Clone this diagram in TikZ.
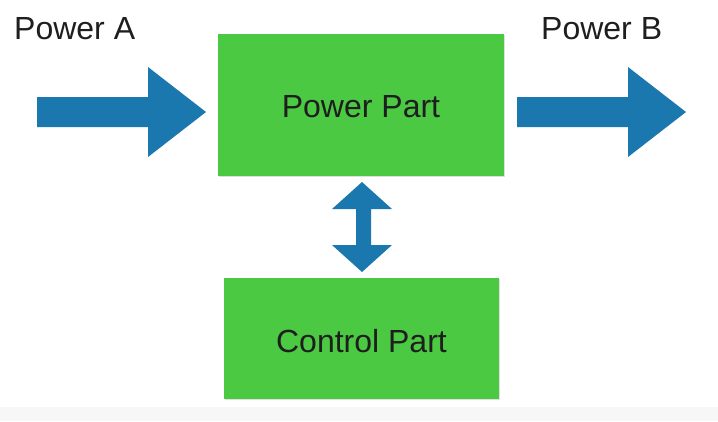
\documentclass[tikz,border=0pt]{standalone}
\usepackage{fontspec}
\setmainfont{Liberation Sans}
\usetikzlibrary{shadows}
\definecolor{boxgreen}{HTML}{4CC942}
\definecolor{flowblue}{HTML}{1B78AF}
\definecolor{labelgray}{HTML}{1E1E1E}
\definecolor{footgray}{HTML}{F7F7F7}
\tikzset{
  partbox/.style={fill=boxgreen, draw=none,
    drop shadow={opacity=0.25, shadow xshift=0.6pt, shadow yshift=-1.2pt}},
  blockarrow/.style={fill=flowblue, draw=none},
  caption/.style={font=\fontsize{32}{36}\selectfont, text=labelgray, inner sep=0pt, anchor=base},
}
\begin{document}
\begin{tikzpicture}[x=1pt,y=-1pt]
  \useasboundingbox (0,0) rectangle (718,421);
  % light footer strip
  \fill[footgray] (0,407) rectangle (718,421);

  % the two blocks
  \path[partbox] (218,34) rectangle (504,176);
  \node[inner sep=0pt, minimum width=286pt, minimum height=142pt] (power) at (361,105) {};
  \path[partbox] (224,278) rectangle (499,399);
  \node[inner sep=0pt, minimum width=275pt, minimum height=121pt] (control) at (361.5,338.5) {};

  \node[caption] (powertxt) at (361,117) {Power Part};
  \node[caption] (controltxt) at (361.5,352) {Control Part};

  % input and output flows
  \path[blockarrow] (37,97) -- (148,97) -- (148,67) -- (206,112) -- (148,157)
        -- (148,127) -- (37,127) -- cycle;
  \path[blockarrow] (517,97) -- (628,97) -- (628,67) -- (686,112) -- (628,157)
        -- (628,127) -- (517,127) -- cycle;

  % exchange between the blocks
  \path[blockarrow] (362,182) -- (392,209) -- (371,209) -- (371,245) -- (392,245)
        -- (362,272) -- (332,245) -- (356,245) -- (356,209) -- (332,209) -- cycle;

  % flow labels
  \node[caption, anchor=base west] (pa) at (14,39) {Power A};
  \node[caption, anchor=base west] (pb) at (541,39) {Power B};
\end{tikzpicture}
\end{document}
